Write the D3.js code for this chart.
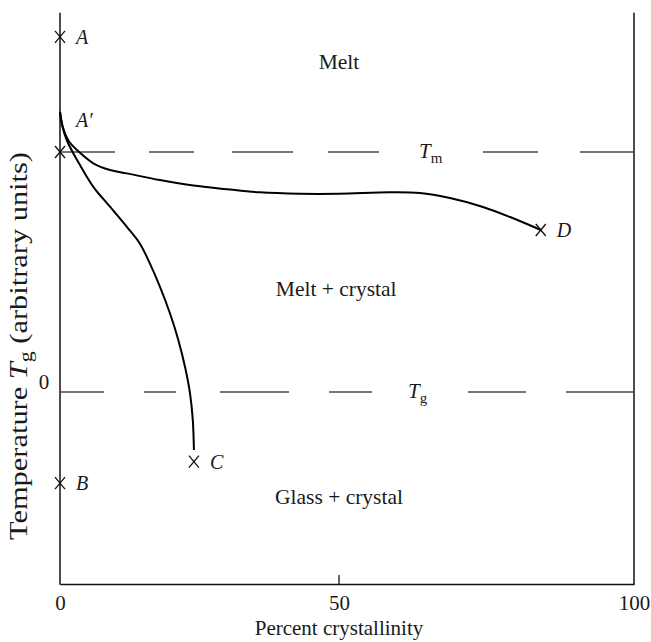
<!DOCTYPE html>
<html>
<head>
<meta charset="utf-8">
<script src="https://cdn.jsdelivr.net/npm/d3@7"></script>
<style>
  html, body { margin: 0; padding: 0; background: #fff; }
  svg { display: block; }
  text { font-family: "Liberation Serif", "Times New Roman", serif; fill: #1a1a1a; }
</style>
</head>
<body>
<svg id="chart" width="651" height="642"></svg>
<script>
// Phase diagram: temperature vs. percent crystallinity (arbitrary units, Tg = 0, Tm = 100)
const xTicks = [0, 50, 100];
const xTickLabels = ["0", "50", "100"];
const Tg = 0;
const Tm = 100;

// Cooling path A' -> D (slow crystallisation near Tm)
const pathDx = [0, 0.5, 1.6, 3.58, 5.97, 8.96, 11.95, 17.9, 23.9, 29.9, 35.8, 43.0, 50.0, 58.6, 63.7, 68.8, 74.4, 79.0, 84.2];
const pathDy = [116.7, 110.5, 104.5, 99.7, 95.3, 92.5, 91.1, 88.3, 86.0, 84.5, 83.2, 82.6, 82.6, 83.2, 82.9, 80.8, 77.1, 72.9, 67.5];

// Quench path A' -> C (crystallisation stops at the glass transition)
const pathCx = [0, 0.45, 1.2, 2.38, 3.58, 5.97, 8.96, 11.95, 14.3, 16.1, 17.9, 19.7, 21.2, 22.4, 23.3, 23.8, 24.0];
const pathCy = [116.7, 110.4, 105, 99.5, 94.6, 85.5, 77.2, 68.9, 61.9, 53.6, 43.9, 32.8, 21.7, 10.5, -0.55, -11.7, -24.2];

// Marked states
const pointNames = ["A", "", "B", "C", "D"];
const pointX = [0, 0, 0, 24.0, 84.2];
const pointY = [148, 100, -38, -29, 67.5];

// Region names
const regionNames = ["Melt", "Melt + crystal", "Glass + crystal"];
const regionX = [50, 49.5, 50];
const regionY = [137.5, 42.9, -43.8];

const svg = d3.select("#chart");

const x = d3.scaleLinear().domain([0, 50, 100]).range([60, 339, 634]);
const y = d3.scaleLinear().domain([-80, 160]).range([584, 8]);
const yTop = 158;

// Frame: left and right verticals, bottom axis
const frame = svg.append("g").attr("stroke", "#111").attr("stroke-width", 1.5).attr("fill", "none");
frame.append("line").attr("x1", x(0)).attr("x2", x(0)).attr("y1", y(yTop)).attr("y2", y(-80) + 0.75);
frame.append("line").attr("x1", x(100)).attr("x2", x(100)).attr("y1", y(yTop)).attr("y2", y(-80) + 0.75);

const xAxis = d3.axisBottom(x).tickValues(xTicks).tickFormat((d, i) => xTickLabels[i]).tickSize(0).tickPadding(11);
const gx = svg.append("g").attr("transform", `translate(0,${y(-80)})`).call(xAxis);
gx.select(".domain").attr("stroke", "#111").attr("stroke-width", 1.5);
gx.selectAll(".tick text").attr("font-size", 21).attr("font-family", "Liberation Serif").attr("fill", "#1a1a1a");
// inward tick at the midpoint
gx.append("line").attr("x1", x(50)).attr("x2", x(50)).attr("y1", 0).attr("y2", -9).attr("stroke", "#111").attr("stroke-width", 1.3);

// Dashed reference lines at Tm and Tg
svg.append("line")
  .attr("x1", x(0)).attr("x2", x(100)).attr("y1", y(Tm)).attr("y2", y(Tm))
  .attr("stroke", "#4a4a4a").attr("stroke-width", 1.6)
  .attr("stroke-dasharray", "55,34,45,38,61,35,51,104,55,42,54");
svg.append("line")
  .attr("x1", x(0)).attr("x2", x(100)).attr("y1", y(Tg)).attr("y2", y(Tg))
  .attr("stroke", "#4a4a4a").attr("stroke-width", 1.6)
  .attr("stroke-dasharray", "44,40,32,44,69,40,43,96,58,40,68");

// Cooling curves
const line = d3.line().x(d => x(d[0])).y(d => y(d[1])).curve(d3.curveCatmullRom.alpha(0.5));
svg.append("path").datum(d3.zip(pathDx, pathDy)).attr("d", line)
  .attr("fill", "none").attr("stroke", "#000").attr("stroke-width", 2);
svg.append("path").datum(d3.zip(pathCx, pathCy)).attr("d", line)
  .attr("fill", "none").attr("stroke", "#000").attr("stroke-width", 2);

// Cross markers
const pts = d3.range(pointNames.length).map(i => ({ name: pointNames[i], x: pointX[i], y: pointY[i] }));
const mk = svg.append("g").attr("stroke", "#111").attr("stroke-width", 1.3);
pts.forEach(p => {
  const cx = x(p.x), cy = y(p.y);
  mk.append("line").attr("x1", cx - 5).attr("y1", cy - 6).attr("x2", cx + 5).attr("y2", cy + 6);
  mk.append("line").attr("x1", cx - 5).attr("y1", cy + 6).attr("x2", cx + 5).attr("y2", cy - 6);
});

// Point labels (italic)
pts.filter(p => p.name).forEach(p => {
  svg.append("text").attr("x", x(p.x) + 16).attr("y", y(p.y) + 7)
    .attr("font-size", 20).attr("font-style", "italic").text(p.name);
});
// A' marks the start of both cooling paths
svg.append("text").attr("x", x(0) + 16).attr("y", y(pathDy[0]) + 15)
  .attr("font-size", 20).attr("font-style", "italic").text("A\u2032");

// Region names
regionNames.forEach((t, i) => {
  svg.append("text").attr("x", x(regionX[i])).attr("y", y(regionY[i]) + 7)
    .attr("text-anchor", "middle").attr("font-size", 21.5).text(t);
});

// Tm and Tg labels with subscripts
function subLabel(px, py, sub) {
  const t = svg.append("text").attr("x", px).attr("y", py).attr("font-size", 21);
  t.append("tspan").attr("font-style", "italic").text("T");
  t.append("tspan").attr("font-size", 15).attr("dy", 5).text(sub);
}
subLabel(x(50) + 80, y(Tm) + 6, "m");
subLabel(x(50) + 69, y(Tg) + 6, "g");

// Zero of the temperature scale
svg.append("text").attr("x", 44).attr("y", y(Tg) - 3).attr("text-anchor", "middle")
  .attr("font-size", 21).text("0");

// Axis titles
svg.append("text").attr("x", x(50)).attr("y", 635).attr("text-anchor", "middle")
  .attr("font-size", 21).text("Percent crystallinity");

const yl = svg.append("text").attr("transform", `translate(27,${346}) rotate(-90)`)
  .attr("text-anchor", "middle").attr("font-size", 25)
  .attr("textLength", 388).attr("lengthAdjust", "spacingAndGlyphs");
yl.append("tspan").text("Temperature ");
yl.append("tspan").attr("font-style", "italic").text("T");
yl.append("tspan").attr("font-size", 18).attr("dy", 5).text("g");
yl.append("tspan").attr("dy", -5).text(" (arbitrary units)");
</script>
</body>
</html>
